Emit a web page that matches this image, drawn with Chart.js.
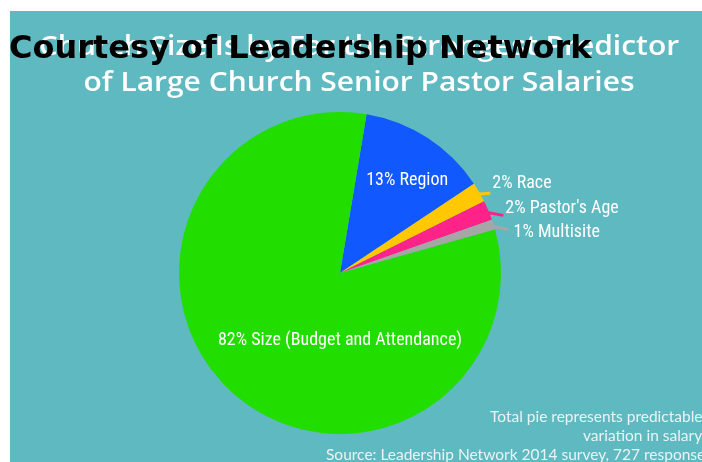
<!DOCTYPE html>
<html>
<head>
<meta charset="utf-8">
<script src="https://cdn.jsdelivr.net/npm/chart.js@4.4.0/dist/chart.umd.min.js"></script>
<style>
  html, body { margin: 0; padding: 0; background: #fff; width: 702px; height: 462px; overflow: hidden; }
  #panel { position: absolute; left: 10px; top: 11px; width: 692px; height: 451px; background: #5fb9c1; overflow: hidden; }
  #panel canvas { position: absolute; left: 0; top: 0; }
  .title { position: absolute; left: 0; width: 718px; text-align: center; color: #fff;
           font-family: "Open Sans", sans-serif; font-weight: 600; font-size: 27px; white-space: nowrap; line-height: 1;
           transform: scaleX(1.11); transform-origin: 359px 0; }
  .foot { position: absolute; color: #eaf4f4; font-family: Lato, sans-serif; font-size: 15.5px; white-space: nowrap; line-height: 1; }
  #courtesy { position: absolute; left: 9px; top: 31px; font-family: "DejaVu Sans", sans-serif; font-weight: bold;
              font-size: 32px; color: #000; white-space: nowrap; line-height: 1; }
</style>
</head>
<body>
<div id="panel">
  <canvas id="pieChart" width="692" height="451"></canvas>
</div>
<div class="title" style="top:31px">Church Size Is by Far the Strongest Predictor</div>
<div class="title" style="top:67px">of Large Church Senior Pastor Salaries</div>
<div class="foot" style="left:490px; top:409px">Total pie represents predictable</div>
<div class="foot" style="left:583px; top:428px">variation in salary</div>
<div class="foot" style="left:326px; top:447px">Source: Leadership Network 2014 survey, 727 responses</div>
<div id="courtesy">Courtesy of Leadership Network</div>

<script>
// dados (fatias no sentido horário a partir do topo)
const categorias = ["Region", "Race", "Pastor's Age", "Multisite", "Size (Budget and Attendance)"];
const valores = [13, 2, 2, 1, 82];
const cores = ["#1158ff", "#ffc800", "#ff2288", "#a6a6a6", "#22dd00"];

// onde vai cada rótulo: dentro da fatia, ou fora com linha guia
// (dx, dy = ponta da linha a partir da borda; tx, ty = deslocamento do texto)
const posRotulos = [
    { dentro: true, ang: 36, frac: 0.71 },
    { dentro: false, dx: 11, dy: 1, tx: 2, ty: -10 },
    { dentro: false, dx: 15, dy: 5, tx: 2, ty: -7 },
    { dentro: false, dx: 15, dy: 5, tx: 5, ty: 3 },
    { dentro: true, ang: 180, frac: 0.42 },
];

// plugin que escreve os rótulos e desenha as linhas guia
const rotulosPlugin = {
    id: "rotulos",
    afterDatasetsDraw(chart) {
        const ctx = chart.ctx;
        const arcs = chart.getDatasetMeta(0).data;
        ctx.save();
        ctx.fillStyle = "#ffffff";
        ctx.font = '18px "Liberation Sans Narrow", "Roboto Condensed", sans-serif';
        ctx.textBaseline = "middle";
        arcs.forEach((arc, i) => {
            const p = posRotulos[i];
            const texto = valores[i] + "% " + categorias[i];
            const cx = arc.x, cy = arc.y, r = arc.outerRadius;
            if (p.dentro) {
                const a = (p.ang - 90) * Math.PI / 180;
                ctx.textAlign = "center";
                ctx.fillText(texto, cx + Math.cos(a) * r * p.frac, cy + Math.sin(a) * r * p.frac);
            } else {
                const meio = (arc.startAngle + arc.endAngle) / 2;
                const x0 = cx + Math.cos(meio) * (r - 4), y0 = cy + Math.sin(meio) * (r - 4);
                const x1 = cx + Math.cos(meio) * r + p.dx, y1 = cy + Math.sin(meio) * r + p.dy;
                ctx.strokeStyle = cores[i];
                ctx.lineWidth = 3;
                ctx.beginPath();
                ctx.moveTo(x0, y0);
                ctx.lineTo(x1, y1);
                ctx.stroke();
                ctx.textAlign = "left";
                ctx.fillText(texto, x1 + p.tx, y1 + p.ty);
            }
        });
        ctx.restore();
    },
};

const pieChart = new Chart(document.getElementById("pieChart"), {
    type: "pie",
    data: {
        labels: categorias,
        datasets: [
            {
                data: valores,
                backgroundColor: cores,
                borderWidth: 0,
            },
        ],
    },
    options: {
        responsive: false,
        animation: false,
        rotation: 9.5,
        layout: {
            padding: { left: 169, right: 201, top: 101, bottom: 28 },
        },
        plugins: {
            legend: { display: false },
            tooltip: { enabled: false },
        },
    },
    plugins: [rotulosPlugin],
});
</script>
</body>
</html>
